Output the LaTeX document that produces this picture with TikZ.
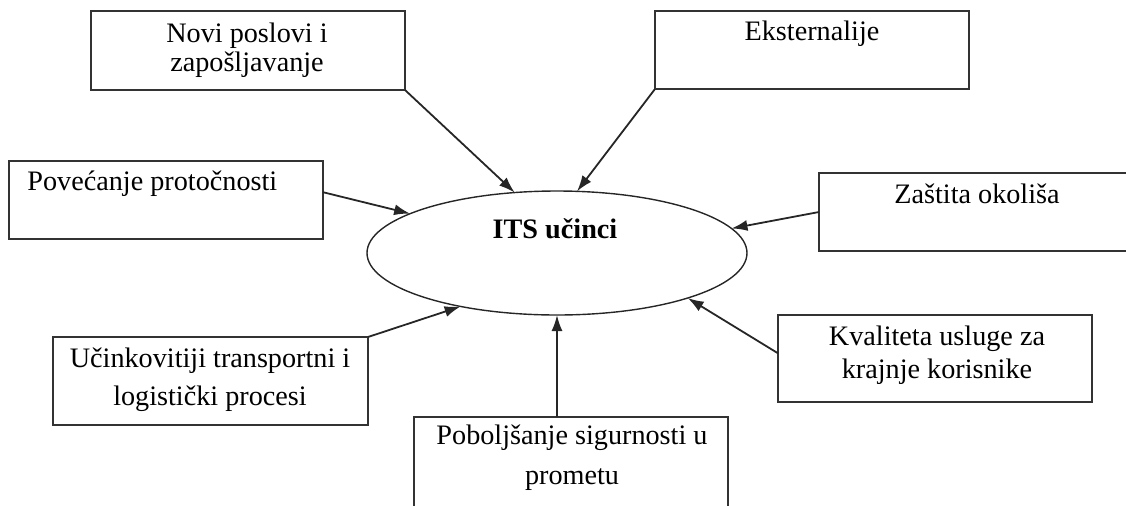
\documentclass[tikz,border=0pt]{standalone}
\usepackage{fontspec}
\setmainfont{Liberation Serif}
\usetikzlibrary{shapes.geometric,arrows.meta,calc}
\begin{document}
\begin{tikzpicture}[x=0.5pt,y=-0.5pt,
  box/.style={draw=black!80,line width=0.9pt,rectangle,inner sep=0pt,outer sep=0pt},
  lbl/.style={inner sep=0pt,align=center,font=\fontsize{14.1pt}{14.5pt}\selectfont},
  arr/.style={draw=black!85,line width=0.9pt,-{Latex[length=8pt,width=5.5pt]}}]
\useasboundingbox (0,0) rectangle (1126,505);
% boxes
\node[box,minimum width=157pt,minimum height=39.5pt] (b1) at (248,50.5) {};
\node[box,minimum width=157pt,minimum height=39pt] (b2) at (812,50) {};
\node[box,minimum width=157pt,minimum height=39pt] (b3) at (166,200) {};
\node[box,minimum width=160.5pt,minimum height=39pt] (b4) at (979.5,212) {};
\node[box,minimum width=157.5pt,minimum height=44pt] (b5) at (210.5,381) {};
\node[box,minimum width=157pt,minimum height=51.5pt] (b6) at (571,468.5) {};
\node[box,minimum width=157pt,minimum height=43.5pt] (b7) at (935,358.5) {};
% ellipse
\node[ellipse,draw=black!85,line width=0.7pt,minimum width=190pt,minimum height=62pt,inner sep=0pt,outer sep=0pt] (e) at (557,253) {};
% labels
\node[lbl] (t1) at (247,50) {Novi poslovi i\\zapošljavanje};
\node[lbl] (t2) at (812,34) {Eksternalije};
\node[lbl,anchor=west] (t3) at (27,184) {Povećanje protočnosti};
\node[lbl] (t4) at (977,194) {Zaštita okoliša};
\node[lbl,font=\fontsize{14.1pt}{19pt}\selectfont] (t5) at (210,380) {Učinkovitiji transportni i\\logistički procesi};
\node[lbl,font=\fontsize{14.1pt}{20pt}\selectfont] (t6) at (572,458) {Poboljšanje sigurnosti u\\prometu};
\node[lbl,font=\fontsize{14.1pt}{16.5pt}\selectfont] (t7) at (937,355) {Kvaliteta usluge za\\krajnje korisnike};
\node[lbl,font=\fontsize{14.1pt}{14.5pt}\selectfont\bfseries] (te) at (555,229) {ITS učinci};
% arrows
\draw[arr] (b1.south east) -- (e.125);
\draw[arr] (b2.south west) -- (e.72);
\draw[arr] ($(b3.north east)!0.4!(b3.south east)$) -- (e.165);
\draw[arr] (b4.west) -- (e.8);
\draw[arr] (b5.north east) -- (e.209);
\draw[arr] (e.south |- b6.north) -- (e.south);
\draw[arr] ($(b7.north west)!0.44!(b7.south west)$) -- (e.341);
\end{tikzpicture}
\end{document}
